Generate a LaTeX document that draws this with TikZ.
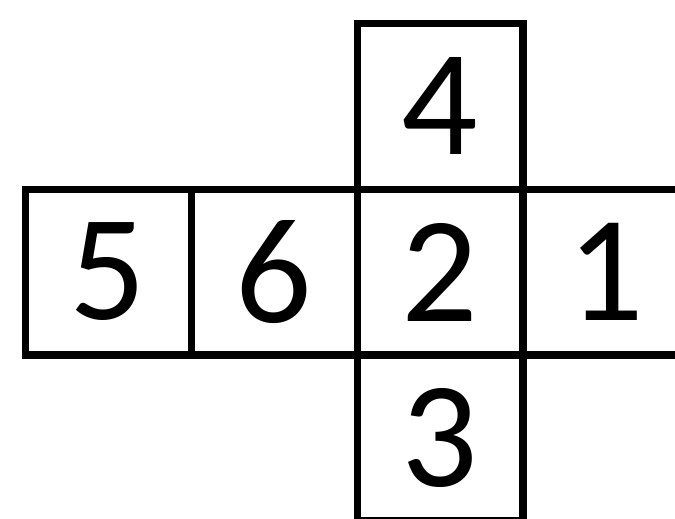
\documentclass[tikz,border=0pt]{standalone}
\usepackage{fontspec}
\setmainfont{Carlito}
\usetikzlibrary{positioning}

\tikzset{face/.style={draw, line width=4pt, minimum size=3.32cm, inner sep=0pt, outer sep=0pt,
    font=\fontsize{86}{90}\selectfont}}

\begin{document}
\begin{tikzpicture}[x=0.02cm, y=-0.02cm]
	\useasboundingbox (0,0) rectangle (675,518);
	\clip (0,0) rectangle (675,518);
	% middle row of the net
	\node [face] (two) at (440,272) {2};
	\node [face, left=0pt of two] (six) {6};
	\node [face, left=0pt of six] (five) {5};
	\node [face, right=0pt of two] (one) {1};
	% top and bottom faces
	\node [face, above=0pt of two] (four) {4};
	\node [face, below=0pt of two] (three) {3};
\end{tikzpicture}
\end{document}
